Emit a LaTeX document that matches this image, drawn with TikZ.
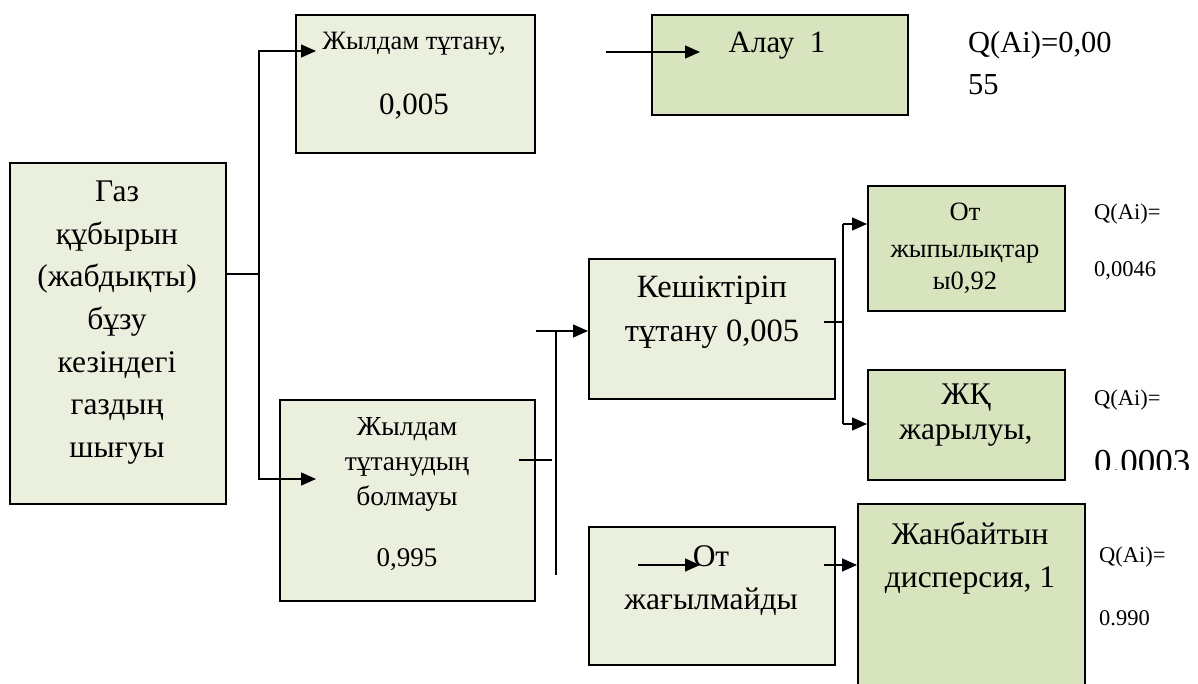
\documentclass[tikz,border=0pt]{standalone}
\usepackage{fontspec}
\setmainfont{Liberation Serif}
\usetikzlibrary{arrows.meta}
\definecolor{evfill}{RGB}{235,240,222}
\definecolor{outfill}{RGB}{215,228,189}
\newcommand{\sz}[1]{\fontsize{#1}{#1}\selectfont}

\begin{document}
\begin{tikzpicture}[x=1pt,y=-1pt,
  box/.style={draw, line width=1.8pt, fill=evfill, inner sep=0pt, anchor=north west},
  outbox/.style={box, fill=outfill},
  txt/.style={inner sep=0pt, anchor=base},
  qtxt/.style={inner sep=0pt, anchor=base west},
  conn/.style={line width=1.4pt},
  arr/.style={conn, -{Triangle[length=15pt,width=13pt]}}]
\useasboundingbox (0,0) rectangle (1198,684);

% boxes
\node[box, minimum width=216pt, minimum height=341pt] (src) at (9,162) {};
\node[box, minimum width=239pt, minimum height=138pt] (fast) at (295,14) {};
\node[outbox, minimum width=256pt, minimum height=100pt] (flare) at (651,14) {};
\node[box, minimum width=255pt, minimum height=201pt] (nofast) at (279,399) {};
\node[box, minimum width=246pt, minimum height=140pt] (late) at (588,258) {};
\node[outbox, minimum width=197pt, minimum height=125pt] (flash) at (867,185) {};
\node[outbox, minimum width=197pt, minimum height=110pt] (vce) at (867,369) {};
\node[box, minimum width=246pt, minimum height=138pt] (noign) at (588,526) {};
\node[outbox, minimum width=227pt, minimum height=220pt] (disp) at (857,503) {};

% texts
\foreach \w [count=\i] in {Газ, құбырын, {(жабдықты)}, бұзу, кезіндегі, газдың, шығуы}
  \node[txt, font=\sz{31.5}] (src-\i) at (117,{202+42.5*(\i-1)}) {\w};
\node[txt, font=\sz{26.5}] (fast-t1) at (414,50) {Жылдам тұтану,};
\node[txt, font=\sz{31}] (fast-t2) at (414,115) {0,005};
\node[txt, font=\sz{31}] (flare-t) at (777,53) {Алау\ \ 1};
\node[qtxt, font=\sz{30.5}] (q1a) at (968,53) {Q(Ai)=0,00};
\node[qtxt, font=\sz{30.5}] (q1b) at (968,95) {55};
\node[txt, font=\sz{27.5}] (nofast-t1) at (407,435) {Жылдам};
\node[txt, font=\sz{27.5}] (nofast-t2) at (407,470) {тұтанудың};
\node[txt, font=\sz{27.5}] (nofast-t3) at (407,505) {болмауы};
\node[txt, font=\sz{27}] (nofast-t4) at (407,566) {0,995};
\node[txt, font=\sz{32.5}] (late-t1) at (712,298) {Кешіктіріп};
\node[txt, font=\sz{32.5}] (late-t2) at (712,341) {тұтану 0,005};
\node[txt, font=\sz{26.5}] (flash-t1) at (965,221) {От};
\node[txt, font=\sz{26.5}] (flash-t2) at (965,258) {жыпылықтар};
\node[txt, font=\sz{26.5}] (flash-t3) at (965,290) {ы0,92};
\node[qtxt, font=\sz{22.5}] (q2a) at (1094,220) {Q(Ai)=};
\node[qtxt, font=\sz{22.5}] (q2b) at (1094,277) {0,0046};
\node[txt, font=\sz{31.5}] (vce-t1) at (966,404) {ЖҚ};
\node[txt, font=\sz{31.5}] (vce-t2) at (966,439) {жарылуы,};
\node[qtxt, font=\sz{22.5}] (q3a) at (1094,405) {Q(Ai)=};
\begin{scope}
  \clip (1080,430) rectangle (1198,469);
  \node[qtxt, font=\sz{35}] (q3b) at (1094,473) {0.0003};
\end{scope}
\node[txt, font=\sz{31.5}] (noign-t1) at (711,566) {От};
\node[txt, font=\sz{31.5}] (noign-t2) at (711,609) {жағылмайды};
\node[txt, font=\sz{31.5}] (disp-t1) at (970,544) {Жанбайтын};
\node[txt, font=\sz{31.5}] (disp-t2) at (970,587) {дисперсия, 1};
\node[qtxt, font=\sz{22.5}] (q4a) at (1099,562) {Q(Ai)=};
\node[qtxt, font=\sz{22.5}] (q4b) at (1099,625) {0.990};

% connectors
\coordinate (j1) at (259,274);
\coordinate (fast-in) at (316,51);
\coordinate (nofast-in) at (316,479);
\draw[conn] (j1 -| src.east) -- (j1);
\draw[arr] (j1) |- (fast-in);
\draw[arr] (j1) |- (nofast-in);

\coordinate (flare-from) at (606,52);
\coordinate (flare-in) at (700,52);
\draw[arr] (flare-from) -- (flare-in);

\coordinate (j2) at (556,331);
\coordinate (j2b) at (556,575);
\coordinate (nofast-out) at (519,460);
\draw[conn] (j2) -- (j2b);
\draw[conn] (nofast-out) -- ++(33,0);
\draw[arr] (j2 -| nofast.east) -- (j2 -| late.west);

\coordinate (j3) at (843,224);
\coordinate (j3b) at (843,424);
\coordinate (late-out) at (824,322);
\draw[conn] (j3) -- (j3b);
\draw[conn] (late-out) -- (late-out -| j3);
\draw[arr] (j3) -- (j3 -| flash.west);
\draw[arr] (j3b) -- (j3b -| vce.west);

\coordinate (noign-a) at (638,565);
\coordinate (noign-b) at (700,565);
\coordinate (noign-out) at (824,565);
\draw[arr] (noign-a) -- (noign-b);
\draw[arr] (noign-out) -- (noign-out -| disp.west);
\end{tikzpicture}
\end{document}
